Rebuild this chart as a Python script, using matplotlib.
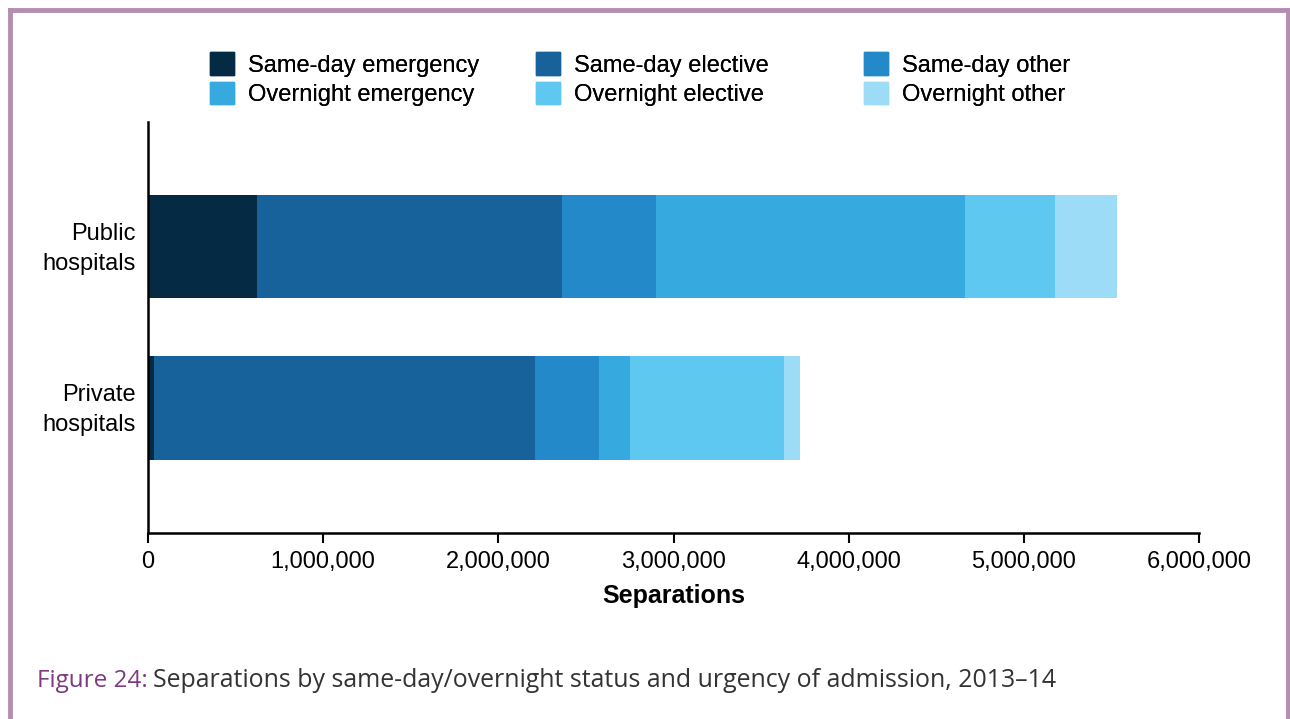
import matplotlib.pyplot as plt
from matplotlib.lines import Line2D
from matplotlib.patches import Patch
from matplotlib.transforms import ScaledTranslation

plt.rcParams['font.family'] = ['Liberation Sans', 'DejaVu Sans']

hospitals = ['Private\nhospitals', 'Public\nhospitals']
series = ['Same-day emergency', 'Same-day elective', 'Same-day other',
          'Overnight emergency', 'Overnight elective', 'Overnight other']
# values per series: [private, public]
same_day_emergency = [35000, 625000]
same_day_elective = [2175000, 1738000]
same_day_other = [365000, 537000]
overnight_emergency = [177000, 1764000]
overnight_elective = [879000, 516000]
overnight_other = [91000, 354000]
values = [same_day_emergency, same_day_elective, same_day_other,
          overnight_emergency, overnight_elective, overnight_other]
colors = ['#042a44', '#17629a', '#2389c9', '#36aadf', '#5ec8f1', '#9ddcf6']
xticks = [0, 1000000, 2000000, 3000000, 4000000, 5000000, 6000000]


def main():
    fig = plt.figure(figsize=(12.9, 7.19), dpi=100)
    ax = fig.add_axes([0.1147, 0.2587, 0.8148, 0.5716])

    y = range(len(hospitals))
    left = [0, 0]
    for vals, col, name in zip(values, colors, series):
        ax.barh(y, vals, left=left, height=0.64, color=col, label=name)
        left = [a + b for a, b in zip(left, vals)]

    ax.set_xlim(0, 6000000)
    ax.set_ylim(-0.774, 1.77)
    ax.set_xticks(xticks)
    ax.set_xticklabels(['{:,}'.format(v) for v in xticks])
    ax.set_yticks(list(y))
    ax.set_yticklabels(hospitals, fontsize=17, ha='right', linespacing=1.45)
    ax.tick_params(axis='y', length=0, pad=9)
    ax.tick_params(axis='x', length=7, width=1.5, labelsize=17, pad=6)
    # nudge the y labels up a little
    up = ScaledTranslation(0, 4 / 100, fig.dpi_scale_trans)
    for lab in ax.get_yticklabels():
        lab.set_transform(lab.get_transform() + up)
    for s in ['top', 'right']:
        ax.spines[s].set_visible(False)
    ax.spines['left'].set_linewidth(1.8)
    ax.spines['bottom'].set_linewidth(1.8)
    ax.set_xlabel('Separations', fontsize=18, fontweight='bold', labelpad=8)

    # legend: three columns, each a small legend at its own spot
    col_x = [0.1628, 0.4155, 0.6698]
    for k in range(3):
        idx = [k, k + 3]
        leg = fig.legend([Patch(color=colors[i]) for i in idx],
                         [series[i] for i in idx],
                         loc='upper left', bbox_to_anchor=(col_x[k], 0.927),
                         frameon=False, fontsize=17, handlelength=1.0,
                         handleheight=1.1, handletextpad=0.6, labelspacing=0.2,
                         borderaxespad=0, borderpad=0)
        fig.add_artist(leg)

    # caption
    cap1 = fig.text(0.0287, 0.045, 'Figure 24:', color='#7d3a80', fontsize=17.5,
                    family=['Open Sans', 'DejaVu Sans'])
    fig.canvas.draw()
    bb = cap1.get_window_extent().transformed(fig.transFigure.inverted())
    fig.text(bb.x1 + 0.004, 0.045,
             'Separations by same-day/overnight status and urgency of admission, 2013\u201314',
             color='#333333', fontsize=17.9, family=['Open Sans', 'DejaVu Sans'])

    # purple frame
    bc = '#b48cb4'
    fig.add_artist(Line2D([0.0078, 0.0078], [0, 0.986], color=bc, lw=3.5))
    fig.add_artist(Line2D([0.9984, 0.9984], [0, 0.986], color=bc, lw=3.5))
    fig.add_artist(Line2D([0.0078, 0.9984], [0.986, 0.986], color=bc, lw=3.5))

    fig.savefig('out.png', dpi=100)


if __name__ == '__main__':
    main()
